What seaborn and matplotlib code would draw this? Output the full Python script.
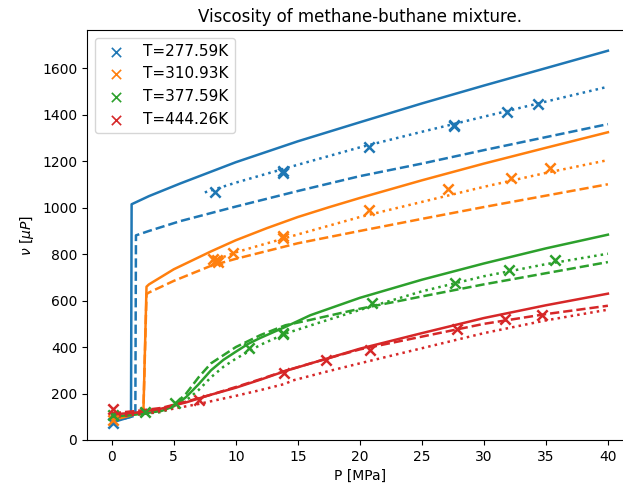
import matplotlib
matplotlib.use("Agg")
import matplotlib.pyplot as plt
import seaborn as sns
import pandas as pd

temps = ["T=277.59K", "T=310.93K", "T=377.59K", "T=444.26K"]
colors = ["#1f77b4", "#ff7f0e", "#2ca02c", "#d62728"]

# experimental points
exp_p = [
    [0.1, 8.3, 13.8, 13.8, 20.7, 27.6, 27.6, 31.9, 34.4],
    [0.1, 8.2, 8.3, 8.5, 8.6, 9.8, 13.8, 13.8, 20.7, 27.1, 32.2, 35.3],
    [0.1, 2.7, 5.1, 11.1, 13.8, 13.8, 21.0, 27.7, 32.0, 35.7],
    [0.1, 7.0, 13.9, 17.3, 20.8, 27.8, 31.7, 34.7],
]
exp_v = [
    [75, 1066, 1160, 1150, 1260, 1357, 1350, 1412, 1445],
    [86, 780, 770, 775, 765, 805, 878, 870, 990, 1080, 1130, 1170],
    [108, 122, 160, 395, 462, 455, 590, 678, 733, 776],
    [132, 172, 288, 345, 388, 479, 522, 536],
]

# model 1 (solid)
m1_p = [
    [0, 0.8, 1.55, 1.6, 3, 5.5, 10, 15, 20, 25, 30, 35, 40],
    [0, 1.5, 2.55, 2.8, 3, 5, 8, 10, 12.5, 15, 17.5, 20, 25, 30, 35, 40],
    [0, 2, 4, 5, 6, 7, 8, 9, 10, 11, 12, 14, 16, 20, 25, 30, 35, 40],
    [0, 2, 4, 6, 8, 10, 12, 14, 17, 20, 25, 30, 35, 40],
]
m1_v = [
    [75, 88, 100, 1015, 1050, 1104, 1196, 1286, 1368, 1449, 1526, 1601, 1676],
    [85, 105, 122, 660, 670, 735, 812, 860, 912, 960, 1002, 1042, 1118, 1190, 1258, 1325],
    [100, 110, 125, 145, 185, 240, 300, 345, 380, 414, 440, 487, 537, 612, 690, 760, 825, 884],
    [110, 118, 135, 162, 195, 225, 260, 297, 345, 393, 460, 525, 580, 630],
]

# model 2 (dashed)
m2_p = [
    [0, 1, 1.9, 1.95, 3, 5.5, 10, 15, 20, 25, 30, 35, 40],
    [0, 1.5, 2.55, 2.8, 3, 5, 8, 10, 15, 20, 25, 30, 35, 40],
    [0, 3, 5, 6, 7, 8, 9, 10, 12, 14, 16, 20, 25, 30, 35, 40],
    [0, 2, 4, 6, 8, 10, 12, 14, 17, 20, 25, 30, 35, 40],
]
m2_v = [
    [80, 92, 105, 881, 900, 942, 1005, 1072, 1136, 1190, 1248, 1304, 1360],
    [95, 110, 125, 628, 635, 685, 750, 780, 847, 900, 952, 1003, 1052, 1101],
    [100, 115, 150, 200, 270, 330, 365, 400, 452, 494, 517, 565, 618, 670, 718, 766],
    [115, 125, 138, 165, 195, 228, 262, 298, 345, 390, 445, 500, 542, 578],
]

# model 3 (dotted)
m3_p = [
    [7.5, 10, 15, 20, 25, 30, 35, 40],
    [8, 10, 15, 20, 25, 30, 35, 40],
    [0, 4, 5, 6, 7, 8, 9, 10, 12, 14, 17, 20, 25, 30, 35, 40],
    [0, 3, 5, 7, 10, 12, 14, 14.5, 17, 20, 25, 30, 35, 40],
]
m3_v = [
    [1066, 1108, 1185, 1260, 1327, 1392, 1457, 1521],
    [768, 808, 885, 960, 1025, 1090, 1150, 1205],
    [100, 120, 140, 170, 215, 270, 315, 350, 410, 458, 510, 560, 640, 705, 757, 802],
    [100, 115, 135, 155, 190, 215, 242, 255, 290, 330, 395, 460, 515, 561],
]

fig = plt.figure(figsize=(6.23, 4.88), dpi=100)
ax = fig.add_axes([0.1396, 0.0984, 0.876, 0.840])

lw = 1.8
for i in range(4):
    for ps, vs, ls in [(m1_p, m1_v, "-"), (m2_p, m2_v, "--"), (m3_p, m3_v, ":")]:
        df = pd.DataFrame({"P": ps[i], "v": vs[i]})
        sns.lineplot(data=df, x="P", y="v", ax=ax, color=colors[i], sort=False,
                     estimator=None, linestyle=ls, linewidth=lw, legend=False)

for i in range(4):
    df = pd.DataFrame({"P": exp_p[i], "v": exp_v[i]})
    sns.scatterplot(data=df, x="P", y="v", ax=ax, color=colors[i], marker="x",
                    s=55, linewidth=1.8, label=temps[i], zorder=3)

ax.set_xlim(-2, 42)
ax.set_ylim(0, 1765)
ax.set_xticks([0, 5, 10, 15, 20, 25, 30, 35, 40])
ax.set_yticks([0, 200, 400, 600, 800, 1000, 1200, 1400, 1600])
ax.set_xlabel("P [MPa]")
ax.set_ylabel(r"$\nu$ [$\mu P$]")
ax.set_title("Viscosity of methane-buthane mixture.")
ax.legend(loc="upper left", fontsize=11)
for h in ax.get_legend().legend_handles:
    h.set_sizes([45])
    h.set_linewidth(1.2)

fig.savefig("out.png", dpi=100)
